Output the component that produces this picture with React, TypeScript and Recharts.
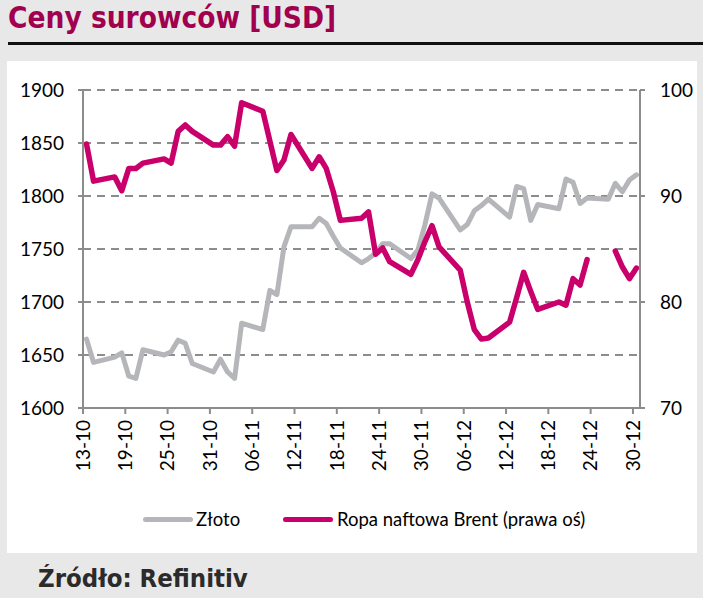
import React from "react";
import { LineChart, Line, XAxis, YAxis, CartesianGrid } from "recharts";

// business days, counted from 13-10
const days = [
  0, 1, 4, 5, 6, 7, 8, 11, 12, 13, 14, 15, 18, 19, 20, 21, 22, 25, 26, 27, 28, 29,
  32, 33, 34, 35, 36, 39, 40, 41, 42, 43, 46, 47, 48, 49, 50, 53, 54, 55, 56, 57,
  60, 61, 62, 63, 64, 67, 68, 69, 70, 71, 74, 75, 76, 77, 78,
];

const gold = [
  1665, 1643, 1648, 1652, 1630, 1628, 1655, 1650, 1653, 1664, 1661, 1642, 1634, 1646, 1634, 1628, 1680, 1674, 1711, 1707, 1752, 1771,
  1771, 1779, 1774, 1762, 1751, 1737, 1741, 1746, 1755, 1755, 1741, 1749, 1773, 1802, 1798, 1768, 1773, 1786, 1791, 1797,
  1780, 1809, 1807, 1777, 1792, 1788, 1816, 1813, 1793, 1798, 1797, 1812, 1804, 1815, 1820,
];

const brent = [
  94.9, 91.4, 91.8, 90.5, 92.6, 92.6, 93.1, 93.5, 93.1, 96.1, 96.7, 96.1, 94.8, 94.8, 95.6, 94.7, 98.8, 98.0, 95.2, 92.4, 93.4, 95.8,
  92.6, 93.7, 92.6, 90.4, 87.7, 87.9, 88.5, 84.5, 85.1, 83.8, 82.6, 84.0, 85.7, 87.2, 85.2, 83.0, 80.0, 77.4, 76.5, 76.6,
  78.1, 80.4, 82.8, 81.0, 79.3, 80.0, 79.7, 82.2, 81.6, 84.0, null, 84.8, 83.3, 82.2, 83.2,
];

const tickDays = [0, 6, 12, 18, 24, 30, 36, 42, 48, 54, 60, 66, 72, 78];
const tickLabels = ["13-10", "19-10", "25-10", "31-10", "06-11", "12-11", "18-11", "24-11", "30-11", "06-12", "12-12", "18-12", "24-12", "30-12"];

const leftTicks = [1600, 1650, 1700, 1750, 1800, 1850, 1900];
const rightTicks = [70, 80, 90, 100];

const GOLD = "#b5b6b9";
const BRENT = "#c9006b";
const AXIS = "#8c8c8c";
const FONT = "Lato, 'Open Sans', sans-serif";
const HEAD = "'DejaVu Sans Condensed', 'DejaVu Sans', sans-serif";

const data = days.map((d, i) => ({ x: d + 0.5, gold: gold[i], brent: brent[i] }));

const XTick = (props: any) => {
  const { x, y, payload } = props;
  const label = tickLabels[tickDays.indexOf(payload.value)];
  return (
    <text
      x={x}
      y={y}
      transform={`rotate(-90 ${x} ${y})`}
      textAnchor="end"
      dy="0.36em"
      fontSize={19}
      fontFamily={FONT}
      fill="#000"
    >
      {label}
    </text>
  );
};

export default function App() {
  return (
    <div style={{ position: "absolute", left: 0, top: 0, width: 703, height: 598, background: "#e8e8e8", overflow: "hidden" }}>
      <div
        style={{
          position: "absolute",
          left: 8,
          top: 0,
          fontFamily: HEAD,
          fontWeight: 600,
          fontSize: 29.5,
          color: "#a1004f",
          lineHeight: "36px",
        }}
      >
        Ceny surowców [USD]
      </div>
      <div style={{ position: "absolute", left: 8, top: 42, width: 695, height: 3, background: "#111" }} />
      <div style={{ position: "absolute", left: 7, top: 61, width: 690, height: 492, background: "#fff" }} />

      <div style={{ position: "absolute", left: 0, top: 0 }}>
        <LineChart width={703} height={598} data={data} margin={{ top: 90, right: 0, bottom: 120, left: 0 }}>
          <CartesianGrid yAxisId="left" vertical={false} stroke={AXIS} strokeWidth={2} strokeDasharray="8 6" />
          <XAxis
            dataKey="x"
            type="number"
            domain={[0, 79]}
            ticks={tickDays}
            interval={0}
            height={70}
            axisLine={{ stroke: AXIS, strokeWidth: 2 }}
            tickLine={{ stroke: AXIS, strokeWidth: 2 }}
            tickSize={6}
            tickMargin={6}
            tick={<XTick />}
          />
          <YAxis
            yAxisId="left"
            orientation="left"
            width={83}
            domain={[1600, 1900]}
            ticks={leftTicks}
            interval={0}
            axisLine={{ stroke: AXIS, strokeWidth: 2 }}
            tickLine={{ stroke: AXIS, strokeWidth: 2 }}
            tickSize={5}
            tickMargin={14}
            tick={{ fill: "#000", fontSize: 19, fontFamily: FONT }}
          />
          <YAxis
            yAxisId="right"
            orientation="right"
            width={63}
            domain={[70, 100]}
            ticks={rightTicks}
            interval={0}
            axisLine={{ stroke: AXIS, strokeWidth: 2 }}
            tickLine={{ stroke: AXIS, strokeWidth: 2 }}
            tickSize={5}
            tickMargin={15}
            tick={{ fill: "#000", fontSize: 19, fontFamily: FONT }}
          />
          <Line
            yAxisId="left"
            dataKey="gold"
            stroke={GOLD}
            strokeWidth={5}
            dot={false}
            strokeLinejoin="round"
            strokeLinecap="round"
            isAnimationActive={false}
          />
          <Line
            yAxisId="right"
            dataKey="brent"
            stroke={BRENT}
            strokeWidth={5.5}
            dot={false}
            connectNulls={false}
            strokeLinejoin="round"
            strokeLinecap="round"
            isAnimationActive={false}
          />
        </LineChart>
      </div>

      {/* legend */}
      <div style={{ position: "absolute", left: 143, top: 517, width: 50, height: 5, borderRadius: 3, background: GOLD }} />
      <div style={{ position: "absolute", left: 196, top: 507, fontFamily: FONT, fontSize: 18.5, color: "#000", lineHeight: "24px" }}>Złoto</div>
      <div style={{ position: "absolute", left: 283, top: 517, width: 50, height: 5, borderRadius: 3, background: BRENT }} />
      <div style={{ position: "absolute", left: 337, top: 507, fontFamily: FONT, fontSize: 18.5, color: "#000", lineHeight: "24px" }}>
        Ropa naftowa Brent (prawa oś)
      </div>

      <div
        style={{
          position: "absolute",
          left: 38,
          top: 563,
          fontFamily: HEAD,
          fontWeight: 700,
          fontSize: 25.5,
          color: "#2b2b2b",
          lineHeight: "30px",
        }}
      >
        Źródło: Refinitiv
      </div>
    </div>
  );
}
